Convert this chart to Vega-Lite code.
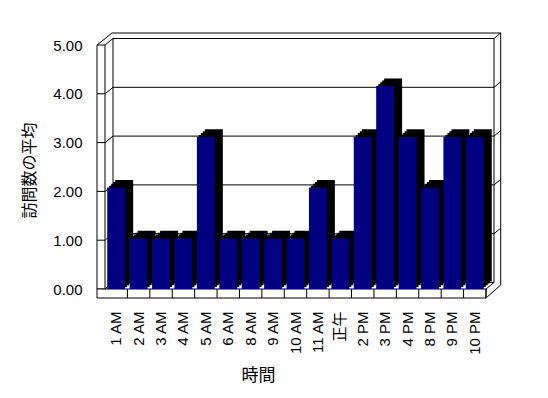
{
  "$schema": "https://vega.github.io/schema/vega-lite/v6.json",
  "width": 381,
  "height": 244,
  "autosize": {"type": "none"},
  "padding": {"left": 105, "top": 45, "right": 62, "bottom": 109},
  "background": "white",
  "config": {"view": {"stroke": null}, "font": "Liberation Sans"},
  "datasets": {
    "hours": [
      {"hour": "1 AM", "visits": 2},
      {"hour": "2 AM", "visits": 1},
      {"hour": "3 AM", "visits": 1},
      {"hour": "4 AM", "visits": 1},
      {"hour": "5 AM", "visits": 3},
      {"hour": "6 AM", "visits": 1},
      {"hour": "8 AM", "visits": 1},
      {"hour": "9 AM", "visits": 1},
      {"hour": "10 AM", "visits": 1},
      {"hour": "11 AM", "visits": 2},
      {"hour": "正午", "visits": 1},
      {"hour": "2 PM", "visits": 3},
      {"hour": "3 PM", "visits": 4},
      {"hour": "4 PM", "visits": 3},
      {"hour": "8 PM", "visits": 2},
      {"hour": "9 PM", "visits": 3},
      {"hour": "10 PM", "visits": 3}
    ],
    "grid": [{"v": 1}, {"v": 2}, {"v": 3}, {"v": 4}],
    "levels": [{"v": 0}, {"v": 1}, {"v": 2}, {"v": 3}, {"v": 4}, {"v": 5}],
    "one": [{"k": 1}]
  },
  "resolve": {"scale": {"x": "independent", "y": "independent"}},
  "layer": [
    {
      "data": {"name": "levels"},
      "mark": {"type": "rule", "strokeOpacity": 0},
      "encoding": {
        "y": {"field": "v", "type": "quantitative", "scale": {"domain": [0, 5], "nice": false, "zero": false},
          "axis": {"orient": "left", "title": "訪問数の平均", "values": [0, 1, 2, 3, 4, 5], "format": ".2f",
            "labelFont": "Liberation Sans", "labelFontSize": 15, "labelColor": "black", "labelPadding": 23, "labelFlush": false,
            "ticks": false, "tickSize": 0, "domain": false, "grid": false,
            "titleFont": "Noto Sans CJK JP", "titleFontSize": 16, "titleFontWeight": "normal", "titleColor": "black",
            "titleX": -76, "titleY": 125, "titleAngle": -90, "titleBaseline": "middle", "titleAlign": "center"}}
      }
    },
    {
      "layer": [
        {
          "data": {"name": "one"},
          "mark": {"type": "rect", "fill": "white", "stroke": "black", "strokeWidth": 1, "xOffset": 8, "x2Offset": 8, "yOffset": -6.5, "y2Offset": -6.5},
          "encoding": {
            "x": {"datum": 0, "type": "quantitative", "scale": {"domain": [0, 17], "nice": false, "zero": false}, "axis": null},
            "x2": {"datum": 17},
            "y": {"datum": 0, "type": "quantitative", "scale": {"domain": [0, 5], "nice": false, "zero": false}, "axis": null},
            "y2": {"datum": 5}
          }
        },
        {
          "data": {"name": "grid"},
          "mark": {"type": "rule", "color": "black", "strokeWidth": 1, "xOffset": 8, "x2Offset": 8, "yOffset": -6.5},
          "encoding": {
            "x": {"datum": 0, "type": "quantitative", "axis": null},
            "x2": {"datum": 17},
            "y": {"field": "v", "type": "quantitative", "axis": null}
          }
        },
        {
          "data": {"name": "one"},
          "mark": {"type": "rule", "color": "black", "strokeWidth": 1, "xOffset": 7, "x2Offset": 14.7, "yOffset": -12},
          "encoding": {
            "x": {"datum": 0, "type": "quantitative", "axis": null},
            "x2": {"datum": 17},
            "y": {"datum": 5, "type": "quantitative", "axis": null}
          }
        },
        {
          "data": {"name": "one"},
          "mark": {"type": "rule", "color": "black", "strokeWidth": 1, "xOffset": 14.7, "yOffset": -12, "y2Offset": -4},
          "encoding": {
            "x": {"datum": 17, "type": "quantitative", "axis": null},
            "y": {"datum": 5, "type": "quantitative", "axis": null},
            "y2": {"datum": 0}
          }
        },
        {
          "data": {"name": "levels"},
          "transform": [{"filter": "datum.v > 0"}],
          "mark": {"type": "rule", "color": "black", "strokeWidth": 1, "xOffset": 8, "x2Offset": 14.7, "yOffset": -6.5, "y2Offset": -12},
          "encoding": {
            "x": {"datum": 17, "type": "quantitative", "axis": null},
            "x2": {"datum": 17},
            "y": {"field": "v", "type": "quantitative", "axis": null},
            "y2": {"field": "v"}
          }
        },
        {
          "data": {"name": "one"},
          "mark": {"type": "rule", "color": "black", "strokeWidth": 1, "x2Offset": 8, "y2Offset": -6.5},
          "encoding": {
            "x": {"datum": 17, "type": "quantitative", "axis": null},
            "x2": {"datum": 17},
            "y": {"datum": 0, "type": "quantitative", "axis": null},
            "y2": {"datum": 0}
          }
        },
        {
          "data": {"name": "one"},
          "mark": {"type": "rule", "color": "black", "strokeWidth": 1, "yOffset": 9, "x2Offset": 14.7, "y2Offset": -4},
          "encoding": {
            "x": {"datum": 17, "type": "quantitative", "axis": null},
            "x2": {"datum": 17},
            "y": {"datum": 0, "type": "quantitative", "axis": null},
            "y2": {"datum": 0}
          }
        },
        {
          "data": {"name": "levels"},
          "mark": {"type": "rule", "color": "black", "strokeWidth": 1, "x2Offset": 8, "y2Offset": -6.5},
          "encoding": {
            "x": {"datum": 0, "type": "quantitative", "axis": null},
            "x2": {"datum": 0},
            "y": {"field": "v", "type": "quantitative", "axis": null},
            "y2": {"field": "v"}
          }
        },
        {
          "data": {"name": "one"},
          "mark": {"type": "rect", "fill": "white", "stroke": "black", "strokeWidth": 1, "xOffset": -8},
          "encoding": {
            "x": {"datum": 0, "type": "quantitative", "axis": null},
            "x2": {"datum": 0},
            "y": {"datum": 0, "type": "quantitative", "axis": null},
            "y2": {"datum": 5}
          }
        },
        {
          "data": {"name": "grid"},
          "mark": {"type": "rule", "color": "black", "strokeWidth": 1, "xOffset": -8},
          "encoding": {
            "x": {"datum": 0, "type": "quantitative", "axis": null},
            "x2": {"datum": 0},
            "y": {"field": "v", "type": "quantitative", "axis": null}
          }
        },
        {
          "data": {"name": "one"},
          "mark": {"type": "rule", "color": "black", "strokeWidth": 1, "xOffset": -8, "x2Offset": 7, "y2Offset": -12},
          "encoding": {
            "x": {"datum": 0, "type": "quantitative", "axis": null},
            "x2": {"datum": 0},
            "y": {"datum": 5, "type": "quantitative", "axis": null},
            "y2": {"datum": 5}
          }
        },
        {
          "data": {"name": "one"},
          "mark": {"type": "rect", "fill": "white", "stroke": "black", "strokeWidth": 1, "xOffset": -8, "y2Offset": 9},
          "encoding": {
            "x": {"datum": 0, "type": "quantitative", "axis": null},
            "x2": {"datum": 17},
            "y": {"datum": 0, "type": "quantitative", "axis": null},
            "y2": {"datum": 0}
          }
        }
      ]
    },
    {
      "data": {"name": "hours"},
      "encoding": {
        "x": {"field": "hour", "type": "nominal", "sort": null,
          "scale": {"paddingInner": 0, "paddingOuter": 0},
          "axis": {"orient": "bottom", "title": "時間", "labelAngle": -90,
            "labelFont": "Liberation Sans, Noto Sans CJK JP", "labelFontSize": 15, "labelColor": "black", "labelPadding": 22,
            "labelOverlap": false, "ticks": false, "tickSize": 0, "domain": false, "grid": false,
            "titleFont": "Noto Sans CJK JP", "titleFontSize": 17, "titleFontWeight": "normal", "titleColor": "black",
            "titleX": 153, "titleY": 86, "titleBaseline": "middle", "titleAlign": "center"}},
        "y": {"field": "visits", "type": "quantitative", "scale": {"domain": [0, 4.81], "nice": false, "zero": true}, "axis": null}
      },
      "layer": [
        {"mark": {"type": "bar", "color": "black", "width": {"band": 0.8}, "xOffset": 2, "yOffset": -1.9, "y2Offset": -1.9}},
        {"mark": {"type": "bar", "color": "black", "width": {"band": 0.8}, "xOffset": 4, "yOffset": -3.75, "y2Offset": -3.75}},
        {"mark": {"type": "bar", "color": "black", "width": {"band": 0.8}, "xOffset": 6, "yOffset": -5.6, "y2Offset": -5.6}},
        {"mark": {"type": "bar", "color": "black", "width": {"band": 0.8}, "xOffset": 8, "yOffset": -7.5, "y2Offset": -7.5}},
        {"mark": {"type": "bar", "color": "#000080", "width": {"band": 0.8}}},
        {
          "mark": {"type": "rule", "color": "black", "strokeWidth": 1, "y2Offset": 9},
          "encoding": {
            "x": {"field": "hour", "type": "nominal", "sort": null, "bandPosition": 1},
            "y": {"datum": 0, "type": "quantitative"},
            "y2": {"datum": 0}
          }
        }
      ]
    }
  ]
}
